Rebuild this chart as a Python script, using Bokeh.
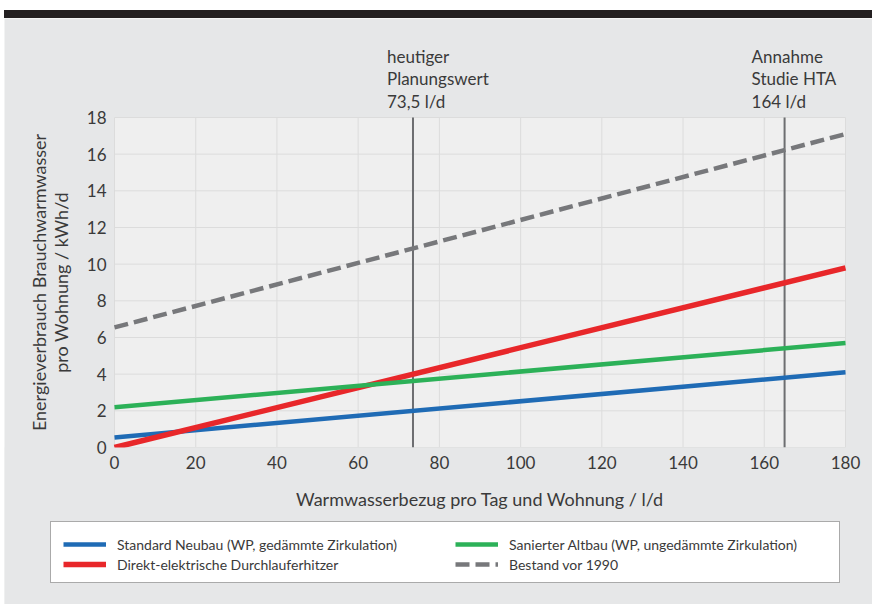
import math
from bokeh.plotting import figure
from bokeh.models import Label, Legend, LegendItem, Div
from bokeh.layouts import column
from bokeh.embed import file_html
from bokeh.resources import INLINE

# ---------------- data ----------------
x_vals = [0, 180]
neubau = [0.55, 4.1]        # Standard Neubau (WP, gedämmte Zirkulation)
durchlauf = [0.0, 9.8]      # Direkt-elektrische Durchlauferhitzer
altbau = [2.2, 5.7]         # Sanierter Altbau (WP, ungedämmte Zirkulation)
bestand = [6.55, 17.1]      # Bestand vor 1990

series_names = [
    "Standard Neubau (WP, gedämmte Zirkulation)",
    "Direkt-elektrische Durchlauferhitzer",
    "Sanierter Altbau (WP, ungedämmte Zirkulation)",
    "Bestand vor 1990",
]

x_ticks = [0, 20, 40, 60, 80, 100, 120, 140, 160, 180]
y_ticks = [0, 2, 4, 6, 8, 10, 12, 14, 16, 18]
x_min, x_max = 0, 180
y_min, y_max = 0, 18

ref_x = [73.5, 165]
ref_texts = [["heutiger", "Planungswert", "73,5 l/d"],
             ["Annahme", "Studie HTA", "164 l/d"]]

x_label = "Warmwasserbezug pro Tag und Wohnung / l/d"
y_label_lines = ["Energieverbrauch Brauchwarmwasser", "pro Wohnung / kWh/d"]

# ---------------- styles / geometry ----------------
FONT = "Lato"
TXT = "#3a3a3a"
C_BLUE = "#1f6bb5"
C_RED = "#e8272a"
C_GREEN = "#2cb158"
C_GRAY = "#77787b"
C_REF = "#6d6e71"
BG = "#e6e7e8"
PLOT_BG = "#efefef"
GRID = "#dcdcdc"

W, H = 868, 586                 # figure size (frame covers the whole figure)
PX0, PW = 110, 731              # pixel x of data x_min, pixel width of x_min..x_max
PY0, PH = 429, 330              # pixel y (from top) of data y_min, pixel height of y_min..y_max
xs_per_px = (x_max - x_min) / PW
ys_per_px = (y_max - y_min) / PH
x_start = x_min - PX0 * xs_per_px
x_end = x_min + (W - PX0) * xs_per_px
y_start = y_min - (H - PY0) * ys_per_px
y_end = y_min + PY0 * ys_per_px

p = figure(frame_width=W, frame_height=H,
           x_range=(x_start, x_end), y_range=(y_start, y_end),
           output_backend="svg", toolbar_location=None, title=None,
           min_border=0, background_fill_color=BG, border_fill_color=BG,
           outline_line_color=None, margin=(0, 0, 0, 4))
p.grid.visible = False

for ax in (p.xaxis[0], p.yaxis[0]):
    ax.axis_line_color = None
    ax.major_tick_line_color = None
    ax.minor_tick_line_color = None
    ax.major_tick_out = 0
    ax.major_tick_in = 0
    ax.minor_tick_out = 0
    ax.minor_tick_in = 0
    ax.major_label_text_font = FONT
    ax.major_label_text_font_size = "17px"
    ax.major_label_text_color = TXT
    ax.major_label_standoff = 8
    ax.fixed_location = 0

p.xaxis.ticker = x_ticks
p.yaxis.ticker = y_ticks
p.xaxis.bounds = (x_min, x_max)
p.yaxis.bounds = (y_min, y_max)

# plot area and grid
r_area = p.quad(left=[x_min], right=[x_max], bottom=[y_min], top=[y_max],
                fill_color=PLOT_BG, line_color=None)
p.segment(x0=x_ticks, y0=[y_min] * len(x_ticks), x1=x_ticks, y1=[y_max] * len(x_ticks),
          line_color=GRID, line_width=1)
p.segment(x0=[x_min] * len(y_ticks), y0=y_ticks, x1=[x_max] * len(y_ticks), y1=y_ticks,
          line_color=GRID, line_width=1)

# reference vertical lines
p.segment(x0=ref_x, y0=[y_min] * len(ref_x), x1=ref_x, y1=[y_max] * len(ref_x),
          line_color=C_REF, line_width=2)

r_blue = p.line(x_vals, neubau, line_color=C_BLUE, line_width=4.5)
r_red = p.line(x_vals, durchlauf, line_color=C_RED, line_width=5.5)
r_green = p.line(x_vals, altbau, line_color=C_GREEN, line_width=4.5)
r_gray = p.line(x_vals, bestand, line_color=C_GRAY, line_width=4.5, line_dash="14 6")

# clip the series at the bottom of the plot area (as the frame edge does in the original)
p.quad(left=[x_start], right=[x_end], bottom=[y_start], top=[y_min],
       fill_color=BG, line_color=None)

# reference annotations
offsets = [-26, -33]
ys = [61, 39, 16]
for xv, texts, off in zip(ref_x, ref_texts, offsets):
    for t, yo in zip(texts, ys):
        p.add_layout(Label(x=xv, y=y_max, text=t, x_offset=off, y_offset=yo,
                           text_font=FONT, text_font_size="17px",
                           text_color=TXT, text_baseline="alphabetic",
                           text_align="left"))

# axis titles
p.add_layout(Label(x=(x_min + x_max) / 2, y=y_min, y_offset=-51, text=x_label,
                   text_font=FONT, text_font_size="18px", text_color=TXT,
                   text_align="center", text_baseline="alphabetic"))
for t, xo in zip(y_label_lines, [-76, -54]):
    p.add_layout(Label(x=x_min, y=(y_min + y_max) / 2, x_offset=xo, text=t,
                       angle=math.pi / 2, text_font=FONT, text_font_size="18px",
                       text_color=TXT, text_align="center", text_baseline="middle"))

# legend box
box = Legend(items=[LegendItem(label=" ", renderers=[r_area])],
             location=(46, 21), padding=0, spacing=0, margin=0,
             glyph_width=0, glyph_height=60, label_standoff=0,
             label_width=788, label_height=60, label_text_font_size="1px",
             background_fill_color="white", background_fill_alpha=1,
             border_line_color="#555555", border_line_width=1.5)
p.add_layout(box)

def mk_legend(items, loc):
    return Legend(items=items, location=loc, padding=0, spacing=0, margin=0,
                  glyph_width=43, glyph_height=20, label_standoff=11,
                  label_height=20, label_text_font=FONT,
                  label_text_font_size="14px", label_text_color=TXT,
                  background_fill_alpha=0, border_line_color=None)

p.add_layout(mk_legend([LegendItem(label=series_names[0], renderers=[r_blue]),
                        LegendItem(label=series_names[1], renderers=[r_red])],
                       (59, 30)))
p.add_layout(mk_legend([LegendItem(label=series_names[2], renderers=[r_green]),
                        LegendItem(label=series_names[3], renderers=[r_gray])],
                       (451, 30)))

bar = Div(text="", width=W, height=8, margin=(10, 0, 0, 4),
          styles={"background-color": "#231f20"})

layout = column(bar, p, spacing=0)
open("out.html", "w").write(file_html(layout, INLINE))
